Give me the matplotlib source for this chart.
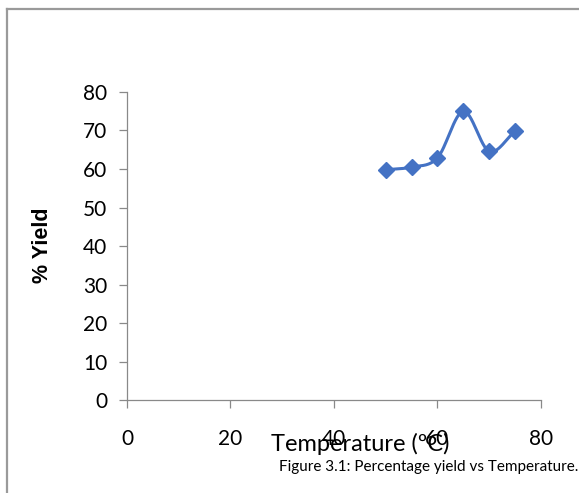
import matplotlib
matplotlib.use('Agg')
import matplotlib.pyplot as plt
from matplotlib.lines import Line2D
import numpy as np

# data
temperature = [50, 55, 60, 65, 70, 75]
yield_pct = [59.8, 60.5, 62.9, 75.0, 64.6, 69.8]

x_ticks = [0, 20, 40, 60, 80]
y_ticks = [0, 10, 20, 30, 40, 50, 60, 70, 80]

blue = '#4472C4'
grey = '#898989'


def smooth(xs, ys, n=30):
    # catmull-rom style smoothing like excel's smoothed line
    xs = np.asarray(xs, float)
    ys = np.asarray(ys, float)
    px = np.concatenate([[2 * xs[0] - xs[1]], xs, [2 * xs[-1] - xs[-2]]])
    py = np.concatenate([[2 * ys[0] - ys[1]], ys, [2 * ys[-1] - ys[-2]]])
    out_x, out_y = [], []
    t = np.linspace(0, 1, n)
    for i in range(1, len(px) - 2):
        for p, out in ((px, out_x), (py, out_y)):
            p0, p1, p2, p3 = p[i - 1], p[i], p[i + 1], p[i + 2]
            seg = 0.5 * ((2 * p1) + (-p0 + p2) * t
                         + (2 * p0 - 5 * p1 + 4 * p2 - p3) * t ** 2
                         + (-p0 + 3 * p1 - 3 * p2 + p3) * t ** 3)
            out.extend(seg)
    return out_x, out_y


plt.rcParams['font.family'] = ['Lato', 'DejaVu Sans']

fig = plt.figure(figsize=(5.79, 4.93), dpi=100)
ax = fig.add_axes([0.2193, 0.1886, 0.7150, 0.6248])

sx, sy = smooth(temperature, yield_pct)
ax.plot(sx, sy, color=blue, linewidth=2.2, solid_capstyle='round')
ax.plot(temperature, yield_pct, linestyle='none', marker='D', markersize=8,
        color=blue)

ax.set_xlim(0, 80)
ax.set_ylim(0, 80)
ax.set_xticks(x_ticks)
ax.set_yticks(y_ticks)

for side in ['top', 'right']:
    ax.spines[side].set_visible(False)
for side in ['left', 'bottom']:
    ax.spines[side].set_color(grey)
    ax.spines[side].set_linewidth(0.9)

ax.tick_params(axis='both', colors=grey, labelcolor='black', length=6,
               width=0.9, labelsize=15)
ax.tick_params(axis='y', pad=8)
ax.tick_params(axis='x', pad=15)

# axis titles placed where the reference has them
fig.text(42 / 579, 1 - 245 / 493, '% Yield', fontsize=15.5, fontweight='bold',
         family=['Liberation Sans', 'DejaVu Sans'], rotation=90,
         ha='center', va='center')
fig.text(360 / 579, 1 - 444 / 493, 'Temperature (ºC)', fontsize=17,
         ha='center', va='center')
fig.text(578 / 579, 1 - 467 / 493, 'Figure 3.1: Percentage yield vs Temperature.',
         fontsize=11, ha='right', va='center')

# grey frame around the chart area
fig.add_artist(Line2D([6.5 / 579, 6.5 / 579], [0, 1 - 8.5 / 493],
                      transform=fig.transFigure, color='#9a9a9a', linewidth=1.6))
fig.add_artist(Line2D([6.5 / 579, 1], [1 - 8.5 / 493, 1 - 8.5 / 493],
                      transform=fig.transFigure, color='#9a9a9a', linewidth=1.6))

fig.savefig('out.png', dpi=100)
